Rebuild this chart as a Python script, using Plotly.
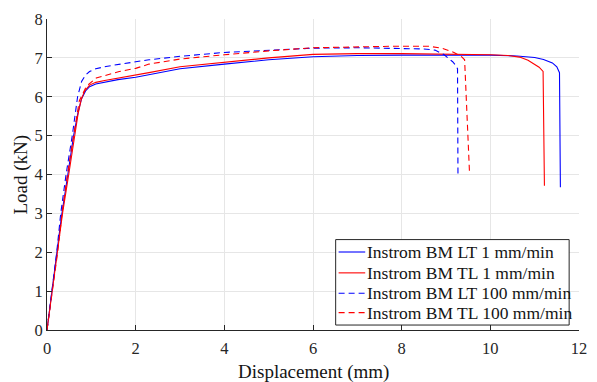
import plotly.graph_objects as go

# Instrom BM LT 1 mm/min
lt1_x = [0, 0.05, 0.11, 0.22, 0.33, 0.47, 0.6, 0.7, 0.78, 0.87, 0.96, 1.1, 1.3, 1.6, 2.0, 2.3, 3.0, 4.0, 5.0, 6.0, 7.0, 8.0, 9.0, 10.0, 10.6, 11.0, 11.2, 11.4, 11.5, 11.56, 11.58]
lt1_y = [0, 0.45, 1.0, 2.0, 2.95, 4.0, 5.0, 5.6, 5.95, 6.15, 6.26, 6.33, 6.38, 6.44, 6.5, 6.57, 6.72, 6.84, 6.95, 7.03, 7.06, 7.07, 7.07, 7.07, 7.05, 7.01, 6.96, 6.87, 6.77, 6.62, 3.67]

# Instrom BM TL 1 mm/min
tl1_x = [0, 0.05, 0.12, 0.24, 0.35, 0.49, 0.62, 0.7, 0.77, 0.85, 0.96, 1.1, 1.3, 1.63, 2.0, 2.3, 3.0, 4.0, 5.0, 6.0, 7.0, 8.0, 9.0, 10.0, 10.4, 10.66, 10.85, 10.96, 11.1, 11.19, 11.22]
tl1_y = [0, 0.42, 1.0, 2.0, 3.0, 4.0, 5.0, 5.55, 5.92, 6.15, 6.3, 6.37, 6.42, 6.48, 6.55, 6.62, 6.77, 6.89, 7.0, 7.09, 7.11, 7.11, 7.1, 7.08, 7.06, 7.02, 6.94, 6.86, 6.76, 6.65, 3.71]

# Instrom BM LT 100 mm/min
lt100_x = [0, 0.05, 0.11, 0.22, 0.31, 0.43, 0.57, 0.69, 0.78, 0.87, 0.96, 1.1, 1.33, 1.63, 2.0, 2.3, 3.0, 4.0, 5.0, 6.0, 7.0, 7.85, 8.5, 8.75, 8.96, 9.15, 9.21, 9.26, 9.27]
lt100_y = [0, 0.45, 1.0, 2.0, 3.0, 4.0, 5.0, 6.0, 6.39, 6.56, 6.65, 6.72, 6.78, 6.84, 6.9, 6.95, 7.04, 7.14, 7.2, 7.25, 7.26, 7.25, 7.23, 7.2, 7.08, 6.9, 6.82, 6.72, 4.0]

# Instrom BM TL 100 mm/min
tl100_x = [0, 0.05, 0.12, 0.24, 0.34, 0.46, 0.6, 0.73, 0.89, 1.11, 1.63, 2.0, 2.3, 3.0, 4.0, 5.0, 6.0, 7.0, 7.85, 8.6, 8.9, 9.18, 9.35, 9.42, 9.53]
tl100_y = [0, 0.42, 1.0, 2.0, 3.0, 4.0, 5.0, 5.9, 6.27, 6.48, 6.65, 6.73, 6.84, 6.97, 7.08, 7.18, 7.26, 7.29, 7.30, 7.30, 7.25, 7.14, 7.03, 6.95, 4.05]

series_names = ["Instrom BM LT 1 mm/min", "Instrom BM TL 1 mm/min",
                "Instrom BM LT 100 mm/min", "Instrom BM TL 100 mm/min"]

x_ticks = [0, 2, 4, 6, 8, 10, 12]
y_ticks = [0, 1, 2, 3, 4, 5, 6, 7, 8]

FONT = "Liberation Serif"
DASH = "6px,4px"
BLUE = "rgb(0,0,255)"
RED = "rgb(255,0,0)"
styles = [(BLUE, "solid"), (RED, "solid"), (BLUE, DASH), (RED, DASH)]
data = [(lt1_x, lt1_y), (tl1_x, tl1_y), (lt100_x, lt100_y), (tl100_x, tl100_y)]

fig = go.Figure()
for (xs, ys), name, (col, dash) in zip(data, series_names, styles):
    fig.add_trace(go.Scatter(x=xs, y=ys, mode="lines", name=name,
                             line=dict(color=col, width=1.1, dash=dash)))

axis_common = dict(
    showgrid=True, gridcolor="rgb(230,230,230)", gridwidth=1,
    zeroline=False, showline=True, linecolor="rgb(38,38,38)", linewidth=1,
    ticks="inside", ticklen=5, tickcolor="rgb(38,38,38)",
    tickfont=dict(family=FONT, size=16.5, color="rgb(38,38,38)"),
)
fig.update_xaxes(range=[0, 12], tickvals=x_ticks, ticktext=[str(v) for v in x_ticks],
                 ticklabelstandoff=3, **axis_common)
fig.update_yaxes(range=[0, 8], tickvals=y_ticks, ticktext=[str(v) for v in y_ticks], **axis_common)

# manual legend (pixel layout converted to paper coords)
L, R, T, B = 47, 587, 17, 330
px = lambda v: (v - L) / (R - L)
py = lambda v: (B - v) / (B - T)
shapes = [dict(type="rect", xref="paper", yref="paper",
               x0=px(340), x1=px(577), y0=py(325), y1=py(239),
               line=dict(color="rgb(38,38,38)", width=1), fillcolor="white", layer="above")]
annotations = []
row_y = [251.5, 272.5, 293, 312.5]
for ry, name, (col, dash) in zip(row_y, series_names, styles):
    shapes.append(dict(type="line", xref="paper", yref="paper",
                       x0=px(343), x1=px(370), y0=py(ry), y1=py(ry),
                       line=dict(color=col, width=1.1, dash=dash), layer="above"))
    annotations.append(dict(text=name, xref="paper", yref="paper", x=px(370), y=py(ry),
                            xanchor="left", yanchor="middle", showarrow=False,
                            font=dict(family=FONT, size=17.5, color="rgb(20,20,20)")))

annotations += [
    dict(text="Displacement (mm)", xref="paper", yref="paper", x=0.5, y=0,
         yshift=-42, showarrow=False, yanchor="middle",
         font=dict(family=FONT, size=19, color="rgb(20,20,20)")),
    dict(text="Load (kN)", xref="paper", yref="paper", x=0, y=0.5,
         xshift=-27, showarrow=False, textangle=-90, xanchor="center",
         font=dict(family=FONT, size=19, color="rgb(20,20,20)")),
]

fig.update_layout(
    width=597, height=382,
    margin=dict(l=47, r=10, t=17, b=52),
    paper_bgcolor="white", plot_bgcolor="white",
    showlegend=False,
    shapes=shapes,
    annotations=annotations,
)

fig.write_html("out.html")
